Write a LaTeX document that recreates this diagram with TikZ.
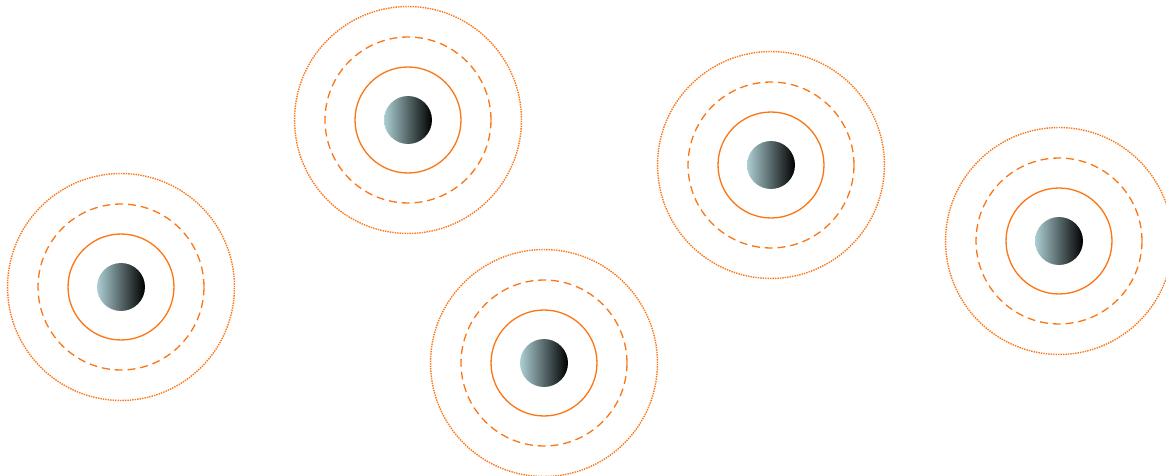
\documentclass[tikz,border=0pt]{standalone}
\usepackage{xcolor}
\usepackage{tikz}
\usetikzlibrary{positioning}

\definecolor{ringorange}{RGB}{250,118,22}
\definecolor{ballgrey}{RGB}{172,206,210}

\begin{document}
\begin{tikzpicture}[x=0.02cm, y=-0.02cm,
    ball/.style={circle, minimum size=0.96cm, inner sep=0pt,
                 left color=ballgrey, right color=black},
    innerring/.style={draw=ringorange, line width=0.75pt},
    midring/.style={innerring, dash pattern=on 4.5pt off 2.8pt},
    outerring/.style={innerring, line width=0.8pt, dash pattern=on 0.8pt off 0.6pt}]
  \useasboundingbox (0,0) rectangle (1166,476);

  % atoms: name / x / y in pixels
  \foreach \name/\px/\py in {a/121/287, b/408/120, c/544/363, d/771/165, e/1059/241}{
    \node[ball] (\name) at (\px,\py) {};
    \draw[innerring] (\name.center) circle[radius=1.06cm];
    \draw[midring] (\name.center) circle[radius=1.66cm];
    \draw[outerring] (\name.center) circle[radius=2.27cm];
  }
\end{tikzpicture}
\end{document}
